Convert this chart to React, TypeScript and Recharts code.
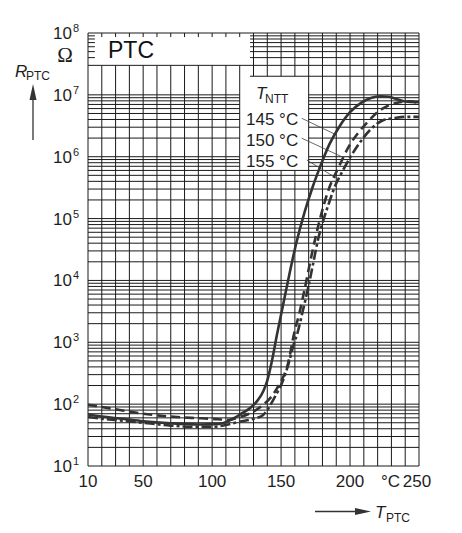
import React from 'react';
import { LineChart, Line, XAxis, YAxis, ReferenceLine } from 'recharts';

const FONT = '"Liberation Sans", Arial, sans-serif';
const INK = '#1e1e1e';

// axis
const xTicks = [10, 50, 100, 150, 200, 250];
const yTicks = [1e1, 1e2, 1e3, 1e4, 1e5, 1e6, 1e7, 1e8];
const legendLabels = ['145 °C', '150 °C', '155 °C'];

// T_NTT = 145 °C (solid)
const t145 = [10, 20, 35, 50, 70, 90, 105, 115, 122, 128, 133, 137, 140, 143, 147, 151, 155, 161, 167, 173, 178, 185, 192, 200, 208, 215, 222, 228, 234, 240, 250];
const r145 = [68, 63, 58, 53, 49, 47, 48, 58, 72, 88, 115, 160, 240, 457, 1320, 3.6e3, 9.8e3, 4.0e4, 1.26e5, 3.3e5, 6.6e5, 1.58e6, 3.0e6, 5.25e6, 7.4e6, 8.9e6, 9.5e6, 9.3e6, 8.5e6, 7.8e6, 7.6e6];

// T_NTT = 150 °C (dashed)
const t150 = [10, 20, 35, 50, 70, 85, 100, 112, 120, 128, 135, 140, 143, 147, 150.5, 155, 159.5, 163, 167.5, 171, 175, 179, 184, 191.5, 200, 206, 212, 222, 229, 236, 243, 250];
const r150 = [98, 90, 79, 70, 63, 60, 58, 56, 62, 72, 90, 112, 132, 180, 246, 450, 1400, 2.8e3, 8.0e3, 1.95e4, 5.0e4, 1.15e5, 2.75e5, 6.6e5, 1.58e6, 2.45e6, 3.5e6, 5.7e6, 6.9e6, 7.6e6, 7.9e6, 7.3e6];

// T_NTT = 155 °C (dash-dot)
const t155 = [10, 20, 35, 50, 70, 85, 100, 110, 120, 130, 137, 142, 145.6, 151.5, 155.5, 159, 162, 166, 169.8, 173, 177, 181, 185.5, 188, 195, 205, 214.5, 224, 232, 240, 250];
const r155 = [62, 58, 54, 50, 45, 43, 43, 46, 52, 58, 67, 95, 132, 246, 458, 900, 1450, 3.4e3, 7.9e3, 1.76e4, 4.8e4, 1.0e5, 2.0e5, 2.9e5, 6.1e5, 1.45e6, 2.7e6, 3.9e6, 4.2e6, 4.4e6, 4.4e6];

// leader lines from legend labels to curves (data coordinates)
const leaderFrom = [[165, 4.18e6], [165, 1.99e6], [168.6, 8.85e5]];
const leaderTo = [[190.3, 2.24e6], [194, 1.0e6], [190.3, 4.48e5]];

const rows = (t: number[], r: number[]) => t.map((v, i) => ({ t: v, r: r[i] }));
const d145 = rows(t145, r145);
const d150 = rows(t150, r150);
const d155 = rows(t155, r155);

// grid values
const vGrid: number[] = [];
for (let v = 10; v <= 250; v += 10) vGrid.push(v);
const hGrid: number[] = [];
for (let n = 1; n <= 7; n++) for (let k = 1; k <= 9; k++) hGrid.push(k * Math.pow(10, n));
hGrid.push(1e8);

const PTC_BOX_T = 127.5;
const PTC_BOX_R = 3e7;
const LEG_T1 = 120, LEG_T2 = 170, LEG_R1 = 6e5, LEG_R2 = 2e7;

type Seg = [number, number, number, number];
const segs: Seg[] = [];
vGrid.forEach((t) => {
  if (t === 10 || t >= LEG_T2) segs.push([t, 10, t, 1e8]);
  else if (t < PTC_BOX_T) {
    segs.push([t, 10, t, PTC_BOX_R]);
    segs.push([t, 8.6e7, t, 1e8]);
  } else {
    segs.push([t, 10, t, LEG_R1]);
    segs.push([t, LEG_R2, t, 1e8]);
  }
});
hGrid.forEach((r0) => {
  const r = Number(r0.toPrecision(6));
  if (r === 1e8 || r === PTC_BOX_R || r === LEG_R1) segs.push([10, r, 250, r]);
  else if (r > PTC_BOX_R) {
    segs.push([PTC_BOX_T, r, 250, r]);
    segs.push([10, r, 15, r]);
  } else if (r === LEG_R2) segs.push([PTC_BOX_T, r, 250, r]);
  else if (r > LEG_R1 && r < LEG_R2) {
    segs.push([10, r, LEG_T1, r]);
    segs.push([LEG_T2, r, 250, r]);
  } else segs.push([10, r, 250, r]);
});

const YTick = (props: any) => {
  const { y, payload } = props;
  const exp = Math.round(Math.log10(payload.value));
  return (
    <g>
      <text x={72} y={y + 6} textAnchor="end" fontSize={17} fill={INK} fontFamily={FONT}>10</text>
      <text x={73} y={y - 1} fontSize={11} fill={INK} fontFamily={FONT}>{exp}</text>
    </g>
  );
};

const XTick = (props: any) => {
  const { x, payload } = props;
  const v = payload.value;
  if (v === 250) {
    return (
      <g>
        <text x={x - 2} y={487} textAnchor="middle" fontSize={17} fill={INK} fontFamily={FONT}>250</text>
        <text x={x - 19} y={487} textAnchor="end" fontSize={17} fill={INK} fontFamily={FONT}>°C</text>
      </g>
    );
  }
  return (
    <text x={x} y={487} textAnchor="middle" fontSize={17} fill={INK} fontFamily={FONT}>{v}</text>
  );
};

export default function App() {
  return (
    <div style={{ position: 'absolute', left: 0, top: 0, width: 462, height: 533, background: '#fff' }}>
      <LineChart width={462} height={533} margin={{ top: 33, right: 43, bottom: 37, left: 28 }}>
        <XAxis
          type="number"
          dataKey="t"
          domain={[10, 250]}
          ticks={xTicks}
          allowDataOverflow
          axisLine={false}
          tickLine={false}
          height={30}
          tick={<XTick />}
        />
        <YAxis
          type="number"
          dataKey="r"
          scale="log"
          domain={[10, 1e8]}
          ticks={yTicks}
          allowDataOverflow
          axisLine={false}
          tickLine={false}
          width={60}
          tick={<YTick />}
        />
        {segs.map((s, i) => (
          <ReferenceLine
            key={'g' + i}
            segment={[{ x: s[0], y: s[1] }, { x: s[2], y: s[3] }]}
            stroke="#1a1a1a"
            strokeWidth={1}
            ifOverflow="visible"
          />
        ))}
        {leaderFrom.map((p, i) => (
          <ReferenceLine
            key={'l' + i}
            segment={[{ x: p[0], y: p[1] }, { x: leaderTo[i][0], y: leaderTo[i][1] }]}
            stroke="#444"
            strokeWidth={0.8}
            ifOverflow="visible"
          />
        ))}
        <Line data={d145} dataKey="r" type="monotone" stroke="#333" strokeWidth={2.6} dot={false} activeDot={false} isAnimationActive={false} />
        <Line data={d150} dataKey="r" type="monotone" stroke="#333" strokeWidth={2.6} strokeDasharray="9 5" dot={false} activeDot={false} isAnimationActive={false} />
        <Line data={d155} dataKey="r" type="monotone" stroke="#333" strokeWidth={2.6} strokeDasharray="10 3 3 3" dot={false} activeDot={false} isAnimationActive={false} />
      </LineChart>
      <svg width={462} height={533} style={{ position: 'absolute', left: 0, top: 0, pointerEvents: 'none' }}>
        <text x={65} y={62} textAnchor="middle" fontSize={21} fill={INK} fontFamily='"Liberation Serif", "Times New Roman", serif'>Ω</text>
        <text x={15} y={77} fontSize={17} fontStyle="italic" fill={INK} fontFamily={FONT}>R</text>
        <text x={26} y={80} fontSize={12} fill={INK} fontFamily={FONT}>PTC</text>
        <line x1={33} y1={140} x2={33} y2={98} stroke="#333" strokeWidth={1.3} />
        <polygon points="33,84 29.5,100 36.5,100" fill="#333" />
        <text x={108} y={58} fontSize={23} fill="#111" fontFamily={FONT}>PTC</text>
        <text x={256} y={99} fontSize={17} fontStyle="italic" fill={INK} fontFamily={FONT}>T</text>
        <text x={265} y={103} fontSize={12} fill={INK} fontFamily={FONT}>NTT</text>
        {legendLabels.map((s, i) => (
          <text key={s} x={246} y={125 + i * 21} fontSize={17} fill={INK} fontFamily={FONT}>{s}</text>
        ))}
        <line x1={315} y1={511.5} x2={358} y2={511.5} stroke="#333" strokeWidth={1.3} />
        <polygon points="371,511.5 355,508 355,515" fill="#333" />
        <text x={375} y={518} fontSize={17} fontStyle="italic" fill={INK} fontFamily={FONT}>T</text>
        <text x={386} y={522} fontSize={12} fill={INK} fontFamily={FONT}>PTC</text>
      </svg>
    </div>
  );
}
